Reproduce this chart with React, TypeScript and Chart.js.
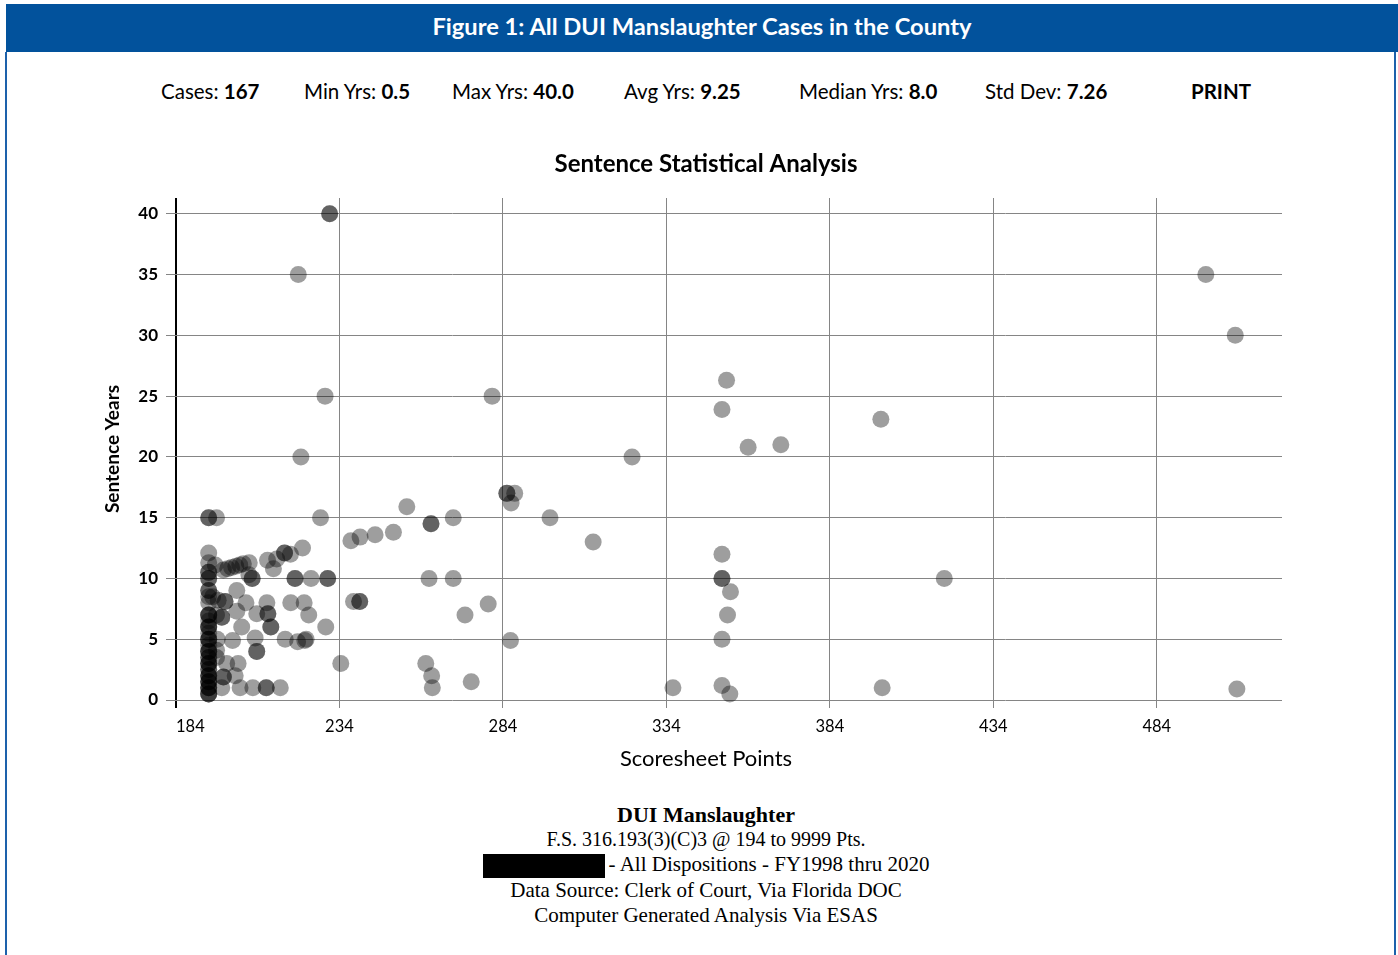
import React, { useEffect, useRef } from 'react';
import { Chart, registerables } from 'chart.js';

Chart.register(...registerables);

// ---- Data (scoresheet points vs sentence years) ----
const SCORE_POINTS: number[] = [
  499, 508, 508.5, 419, 399.6, 400, 369, 359, 352.4, 351,
  351, 351, 351, 353.6, 352.7, 351, 351, 353.4, 336, 323.5,
  311.6, 298.4, 280.7, 285.2, 285.2, 287.6, 286.5, 286.3, 279.5, 272.4,
  274.3, 268.8, 268.8, 262, 262, 261.4, 260.4, 262.2, 262.4, 254.6,
  250.5, 244.9, 240.3, 237.5, 238.3, 240.2, 240.2, 234.4, 231, 231,
  221.4, 229.6, 222.2, 228.2, 222.7, 217.2, 217.2, 219, 214.8, 212,
  213.8, 220.4, 220.4, 225.3, 230.4, 230.4, 219.1, 223.2, 224.6, 229.8,
  217.4, 221.2, 223.4, 223.8, 211.8, 208.7, 212.1, 212.1, 213, 213,
  208.2, 208.7, 208.7, 207.5, 211.6, 211.6, 215.9, 203.6, 198, 198.5,
  198.5, 202.1, 199.5, 203, 201.3, 196.6, 196.4, 196.4, 204.1, 205.4,
  202.6, 202.6, 206.3, 207.3, 207.3, 206.4, 198.5, 199.8, 201, 202.3,
  203.5, 204.6, 198, 198, 199, 199, 196.9, 195.2, 196, 196.4,
  196.4,
  // cases at the 194-point floor
  194, 194, 194, 194, 194, 194, 194, 194, 194, 194,
  194, 194, 194, 194, 194, 194, 194, 194, 194, 194,
  194, 194, 194, 194, 194, 194, 194, 194, 194, 194,
  194, 194, 194, 194, 194, 194, 194, 194, 194, 194,
  194, 194, 194, 194, 194, 194,
];

const SENTENCE_YEARS: number[] = [
  35, 30, 0.9, 10, 23.1, 1, 21, 20.8, 26.3, 23.9,
  12, 10, 10, 8.9, 7, 5, 1.2, 0.5, 1, 20,
  13, 15, 25, 17, 17, 17, 16.2, 4.9, 7.9, 7,
  1.5, 15, 10, 14.5, 14.5, 10, 3, 2, 1, 15.9,
  13.8, 13.6, 13.4, 13.1, 8.1, 8.1, 8.1, 3, 40, 40,
  35, 25, 20, 15, 12.5, 12.1, 12.1, 12, 11.6, 11.5,
  10.8, 10, 10, 10, 10, 10, 8, 8, 7, 6,
  5, 4.8, 4.9, 5, 8, 7.1, 7.1, 7.1, 6, 6,
  5.1, 4, 4, 1, 1, 1, 1, 1, 1, 1.9,
  1.9, 2, 3, 3, 4.9, 5, 4.1, 3.5, 6, 8,
  9, 7.3, 10.3, 10, 10, 11.3, 10.7, 10.8, 10.9, 11,
  11.1, 11.2, 6.8, 6.8, 8.1, 8.1, 8.2, 8.5, 11.1, 15,
  7,
  // cases at the 194-point floor
  15, 15, 12.1, 11.3, 10.5, 10.5, 10, 10, 9, 9,
  8.5, 8, 7, 7, 7, 6.5, 6, 6, 6, 5.5,
  5, 5, 5, 4.5, 4, 4, 4, 3.5, 3.5, 3,
  3, 3, 2.5, 2.5, 2, 2, 2, 1.5, 1.5, 1.5,
  1, 1, 1, 0.5, 0.5, 0.5,
];

const X_TICKS: number[] = [184, 234, 284, 334, 384, 434, 484];
const X_MIN = 184;
const X_MAX = 522.3;
const Y_TICKS: number[] = [0, 5, 10, 15, 20, 25, 30, 35, 40];
const Y_MAX = 41.3;

const STAT_LABELS: string[] = ['Cases:', 'Min Yrs:', 'Max Yrs:', 'Avg Yrs:', 'Median Yrs:', 'Std Dev:'];
const STAT_VALUES: string[] = ['167', '0.5', '40.0', '9.25', '8.0', '7.26'];
const STAT_LEFTS: number[] = [161, 304, 452, 624, 799, 985];

const FIGURE_TITLE = 'Figure 1: All DUI Manslaughter Cases in the County';
const CHART_TITLE = 'Sentence Statistical Analysis';
const X_TITLE = 'Scoresheet Points';
const Y_TITLE = 'Sentence Years';

const BLUE = '#02529c';
const GRID = '#858585';
const SANS = 'Lato, "Open Sans", sans-serif';
const SERIF = '"Liberation Serif", "Times New Roman", serif';

function ScatterChart() {
  const ref = useRef<HTMLCanvasElement | null>(null);

  useEffect(() => {
    if (!ref.current) return;
    const data = SCORE_POINTS.map((x, i) => ({ x, y: SENTENCE_YEARS[i] }));
    const chart = new Chart(ref.current, {
      type: 'scatter',
      data: {
        datasets: [
          {
            data,
            backgroundColor: 'rgba(0,0,0,0.38)',
            borderWidth: 0,
            pointRadius: 8.5,
            pointHoverRadius: 8.5,
            clip: false as any,
          },
        ],
      },
      options: {
        animation: false,
        responsive: false,
        events: [],
        layout: { padding: 0 },
        plugins: {
          legend: { display: false },
          tooltip: { enabled: false },
          title: {
            display: true,
            text: CHART_TITLE,
            color: '#000',
            font: { family: SANS, size: 24, weight: 'bold' },
            padding: { top: 19.6, bottom: 19.6 },
          },
          subtitle: {
            display: true,
            position: 'bottom',
            text: X_TITLE,
            color: '#000',
            font: { family: SANS, size: 22, weight: 'normal' },
            padding: { top: 5.6, bottom: 0 },
          },
        },
        scales: {
          x: {
            type: 'linear',
            min: X_MIN,
            max: X_MAX,
            afterBuildTicks: (scale: any) => {
              scale.ticks = [...X_TICKS, X_MAX].map((v) => ({ value: v }));
            },
            afterFit: (scale: any) => {
              scale.height = 40;
            },
            border: { display: false },
            grid: {
              drawTicks: true,
              tickLength: 8,
              color: (ctx: any) =>
                ctx.index === 0 ? '#000' : ctx.tick && ctx.tick.value === X_MAX ? 'rgba(0,0,0,0)' : GRID,
              lineWidth: (ctx: any) => (ctx.index === 0 ? 2 : 1),
            },
            ticks: {
              color: '#000',
              align: 'inner',
              padding: 9,
              maxRotation: 0,
              autoSkip: false,
              font: { family: SANS, size: 16.5 },
              callback: (v: any) => (v === X_MAX ? '' : String(v)),
            },
          },
          y: {
            type: 'linear',
            position: 'left',
            min: 0,
            max: Y_MAX,
            afterBuildTicks: (scale: any) => {
              scale.ticks = Y_TICKS.map((v) => ({ value: v }));
            },
            afterFit: (scale: any) => {
              scale.width = 81;
            },
            border: { display: false },
            grid: {
              drawTicks: true,
              tickLength: 10,
              color: GRID,
              lineWidth: 1,
            },
            ticks: {
              color: '#000',
              padding: 8,
              autoSkip: false,
              font: { family: SANS, size: 17, weight: 'bold' },
              callback: (v: any) => String(v),
            },
            title: {
              display: true,
              text: Y_TITLE,
              color: '#000',
              font: { family: SANS, size: 19, weight: 'bold' },
              padding: { top: 6, bottom: 0 },
            },
          },
          // empty right-hand margin box so the titles stay centred on the canvas
          yRight: {
            type: 'linear',
            position: 'right',
            min: 0,
            max: 1,
            afterFit: (scale: any) => {
              scale.width = 35;
            },
            border: { display: false },
            grid: { display: false, drawOnChartArea: false },
            ticks: { display: false },
          },
        },
      } as any,
    });
    return () => chart.destroy();
  }, []);

  return <canvas ref={ref} width={1222} height={642} style={{ display: 'block' }} />;
}

export default function App() {
  return (
    <div
      style={{
        position: 'absolute',
        left: 0,
        top: 0,
        width: 1398,
        height: 955,
        background: '#fff',
        overflow: 'hidden',
        fontFamily: SANS,
        color: '#000',
      }}
    >
      {/* header bar */}
      <div
        style={{
          position: 'absolute',
          left: 6,
          top: 4,
          width: 1392,
          height: 48,
          background: BLUE,
          color: '#fff',
          fontFamily: SANS,
          fontWeight: 700,
          fontSize: 23.7,
          lineHeight: '45px',
          textAlign: 'center',
        }}
      >
        {FIGURE_TITLE}
      </div>
      {/* side borders */}
      <div style={{ position: 'absolute', left: 5, top: 52, width: 2, height: 903, background: '#1d61ab' }} />
      <div style={{ position: 'absolute', left: 1394, top: 52, width: 2, height: 903, background: '#1d61ab' }} />

      {/* statistics row */}
      {STAT_LABELS.map((label, i) => (
        <div
          key={label}
          style={{
            position: 'absolute',
            left: STAT_LEFTS[i],
            top: 78,
            fontSize: 20.5,
            lineHeight: '26px',
            whiteSpace: 'nowrap',
          }}
        >
          {label} <b>{STAT_VALUES[i]}</b>
        </div>
      ))}
      <div
        style={{
          position: 'absolute',
          left: 1191,
          top: 78,
          fontSize: 20.5,
          lineHeight: '26px',
          fontWeight: 700,
        }}
      >
        PRINT
      </div>

      {/* chart */}
      <div style={{ position: 'absolute', left: 95, top: 130, width: 1222, height: 642 }}>
        <ScatterChart />
      </div>

      {/* footer */}
      <div
        style={{
          position: 'absolute',
          left: 0,
          top: 802,
          width: 1412,
          textAlign: 'center',
          fontFamily: SERIF,
          fontSize: 21,
          lineHeight: '25px',
        }}
      >
        <div style={{ fontWeight: 700, fontSize: 22 }}>DUI Manslaughter</div>
        <div style={{ fontSize: 20 }}>F.S. 316.193(3)(C)3 @ 194 to 9999 Pts.</div>
        <div>
          <span
            style={{
              display: 'inline-block',
              width: 122,
              height: 24,
              background: '#000',
              verticalAlign: 'middle',
              marginRight: 4,
            }}
          />
          - All Dispositions - FY1998 thru 2020
        </div>
        <div>Data Source: Clerk of Court, Via Florida DOC</div>
        <div>Computer Generated Analysis Via ESAS</div>
      </div>
    </div>
  );
}
